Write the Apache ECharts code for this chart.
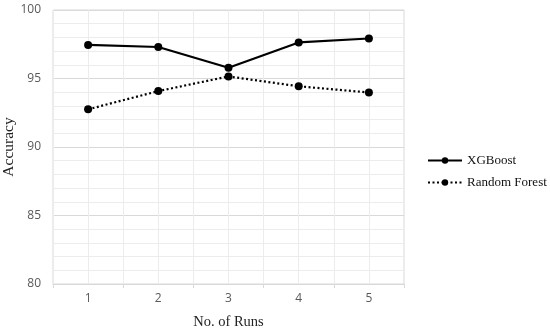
<!DOCTYPE html>
<html><head><meta charset="utf-8">
<script src="https://cdn.jsdelivr.net/npm/echarts@6/dist/echarts.min.js"></script>
<style>html,body{margin:0;padding:0;background:#fff}#c{width:550px;height:333px}</style>
</head><body><div id="c"></div>
<script>
const categories = ['1', '2', '3', '4', '5'];
const xgboost = [97.45, 97.3, 95.78, 97.63, 97.92];
const randomForest = [92.75, 94.08, 95.15, 94.43, 93.98];
const halfSlots = ['', '', '', '', '', '', '', '', '', ''];

const chart = echarts.init(document.getElementById('c'), null, {renderer: 'canvas'});
chart.setOption({
  animation: false,
  backgroundColor: '#ffffff',
  grid: {left: 53, right: 146, top: 10, bottom: 49, show: true, borderColor: '#d9d9d9', borderWidth: 1,
         containLabel: false, outerBoundsMode: 'none'},
  legend: {
    orient: 'vertical', left: 422, top: 149, itemWidth: 34, itemHeight: 8, itemGap: 9,
    textStyle: {fontFamily: 'Liberation Serif', fontSize: 13, color: '#111'},
    data: ['XGBoost', 'Random Forest']
  },
  xAxis: [{
    type: 'category', data: categories, boundaryGap: true,
    name: 'No. of Runs', nameLocation: 'middle', nameGap: 31, nameMoveOverlap: false,
    nameTextStyle: {fontFamily: 'Liberation Serif', fontSize: 14.5, color: '#222'},
    axisLine: {show: true, lineStyle: {color: '#d9d9d9'}},
    axisTick: {show: true, length: 4, lineStyle: {color: '#d9d9d9'}},
    axisLabel: {fontFamily: 'Open Sans', fontSize: 12, color: '#595959', margin: 9},
    splitLine: {show: true, lineStyle: {color: '#d9d9d9', width: 1}}
  }, {
    type: 'category', data: halfSlots, boundaryGap: true, position: 'bottom',
    axisLine: {show: false}, axisTick: {show: false}, axisLabel: {show: false},
    splitLine: {show: true, lineStyle: {color: '#ececec', width: 1}}
  }],
  yAxis: {
    type: 'value', min: 80, max: 100, interval: 5,
    name: 'Accuracy', nameLocation: 'middle', nameGap: 36, nameMoveOverlap: false,
    nameTextStyle: {fontFamily: 'Liberation Serif', fontSize: 15.5, color: '#222'},
    axisLine: {show: false},
    axisTick: {show: false},
    axisLabel: {fontFamily: 'Open Sans', fontSize: 12, color: '#595959', margin: 12},
    splitLine: {show: true, lineStyle: {color: '#d9d9d9', width: 1}},
    minorTick: {show: false, splitNumber: 5},
    minorSplitLine: {show: true, lineStyle: {color: '#ececec', width: 1}}
  },
  series: [{
    name: 'XGBoost', type: 'line', data: xgboost, xAxisIndex: 0,
    symbol: 'circle', symbolSize: 8,
    itemStyle: {color: '#000'},
    lineStyle: {color: '#000', width: 2.2, type: 'solid'},
    z: 3
  }, {
    name: 'Random Forest', type: 'line', data: randomForest, xAxisIndex: 0,
    symbol: 'circle', symbolSize: 8,
    itemStyle: {color: '#000'},
    lineStyle: {color: '#000', width: 2.2, type: [2, 2.5]},
    z: 3
  }]
});
</script></body></html>
